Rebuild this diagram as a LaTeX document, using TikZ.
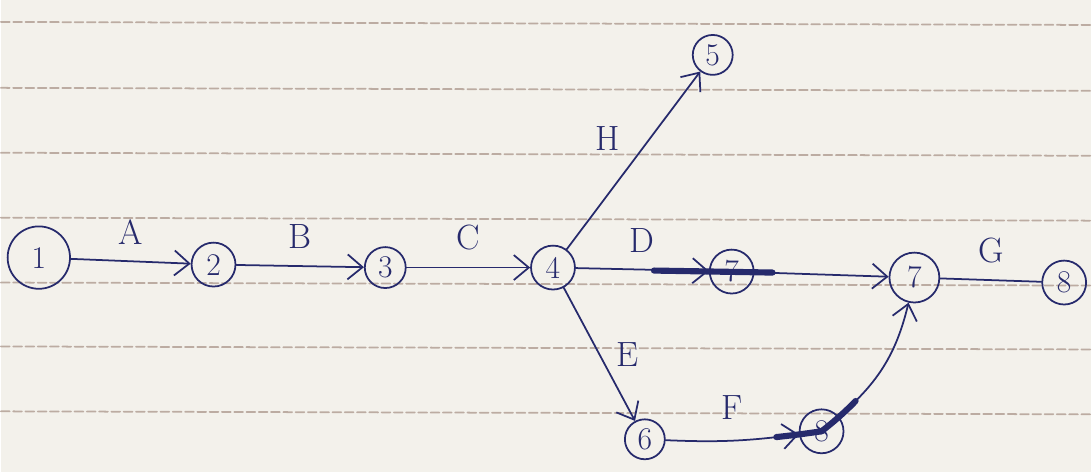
\documentclass[tikz,border=0pt]{standalone}
\usetikzlibrary{arrows.meta,positioning,calc}
\definecolor{ink}{RGB}{38,42,108}
\definecolor{paper}{RGB}{243,241,235}
\definecolor{ruling}{RGB}{188,172,162}
\begin{document}
\begin{tikzpicture}[x=0.02cm,y=0.02cm,line join=round,line cap=round,>={Straight Barb[length=3mm,width=5mm]}]
	\tikzset{every node/.style={text=ink}}
	\tikzset{ev/.style={draw=ink,line width=1pt,circle,inner sep=0pt,minimum size=0.88cm,font=\fontsize{18}{20}\selectfont}}
	\tikzset{act/.style={draw=ink,line width=1pt,->}}
	\tikzset{lbl/.style={font=\fontsize{20}{22}\selectfont}}
	\tikzset{heavy/.style={draw=ink,line width=3.5pt,dash pattern=on 26pt off 400pt}}
	% paper and ruling
	\fill[paper] (0,0) rectangle (1092,-473);
	\foreach \y in {22,88,153,218,283,347,412}
	\draw[ruling,line width=1pt,dash pattern=on 5pt off 2pt] (0,-\y)--(1092,-\y-3);
	% events
	\node[ev,minimum size=1.25cm] (n1) at (38,-258) {1};
	\node[ev] (n2) at (213,-265) {2};
	\node[ev,minimum size=0.82cm] (n3) at (385,-268) {3};
	\node[ev] (n4) at (553,-268) {4};
	\node[ev,minimum size=0.8cm] (n5) at (713,-55) {5};
	\node[ev] (n7a) at (732,-272) {7};
	\node[ev,minimum size=1cm] (n7) at (915,-278) {7};
	\node[ev] (n8a) at (1065,-283) {8};
	\node[ev,minimum size=0.8cm] (n6) at (645,-440) {6};
	\node[ev] (n8) at (822,-432) {8};
	% activities
	\draw[act] (n1)--node[lbl,above=6pt] {A} (n2);
	\draw[act] (n2)--node[lbl,above=6pt] {B} (n3);
	\draw[act] (n3)--node[lbl,above=6pt] {C} (n4);
	\draw[act] (n4)--node[lbl,above=6pt] {D} (n7a);
	\draw[act] (n4)--node[lbl,above left=2pt and 4pt] {H} (n5);
	\draw[act] (n4)--node[lbl,right=6pt] {E} (n6);
	\draw[act] (n7a)--(n7);
	\draw[act] (n6) to[bend right=5] node[lbl,above=8pt] {F} (n8);
	\draw[act] (n8) to[bend right=18] (n7);
	\draw[draw=ink,line width=1pt] (n7)--node[lbl,above=6pt] {G} (n8a);
	% heavy strokes
	\draw[draw=ink,line width=3.5pt] ($(n7a.west)+(-55,1)$)--($(n7a.east)+(18,-1)$);
	\draw[heavy] (n8.center) to[bend left=5] (n6);
	\draw[heavy] (n8.center) to[bend right=18] (n7);
\end{tikzpicture}
\end{document}
